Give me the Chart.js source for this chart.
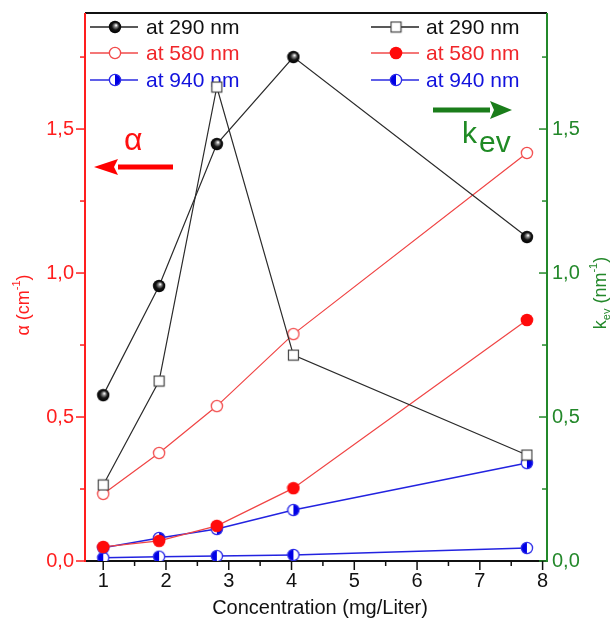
<!DOCTYPE html>
<html>
<head>
<meta charset="utf-8">
<script src="https://cdn.jsdelivr.net/npm/chart.js@4.4.1/dist/chart.umd.min.js"></script>
<style>
html,body{margin:0;padding:0;background:#fff;}
canvas{display:block;}
</style>
</head>
<body>
<canvas id="c" width="616" height="619"></canvas>
<script>
// ---- data ----
const concentration = [1, 1.89, 2.81, 4.03, 7.75];
const alpha290 = [0.576, 0.955, 1.448, 1.75, 1.125];
const alpha580 = [0.233, 0.375, 0.538, 0.788, 1.417];
const alpha940 = [0.046, 0.08, 0.111, 0.177, 0.34];
const kev290 = [0.264, 0.625, 1.646, 0.715, 0.368];
const kev580 = [0.049, 0.07, 0.122, 0.253, 0.837];
const kev940 = [0.011, 0.015, 0.017, 0.021, 0.045];
const xTickValues = [1, 2, 3, 4, 5, 6, 7, 8];
const legendLabels = ['at 290 nm', 'at 580 nm', 'at 940 nm'];

const FONT = "'Liberation Sans', Arial, sans-serif";
const RED = '#ff1e1e';
const GREEN = '#23882a';

function mk(size, fn){
  const c = document.createElement('canvas');
  c.width = size; c.height = size;
  const g = c.getContext('2d');
  fn(g, size/2);
  return c;
}
const sphere = mk(14, (g, m) => {
  const gr = g.createRadialGradient(m+1.2, m-1.8, 0.3, m, m, 6.5);
  gr.addColorStop(0, '#ffffff');
  gr.addColorStop(0.22, '#8a8a8a');
  gr.addColorStop(0.55, '#151515');
  gr.addColorStop(1, '#000');
  g.fillStyle = gr; g.beginPath(); g.arc(m, m, 6.2, 0, Math.PI*2); g.fill();
});
const openRed = mk(14, (g, m) => {
  g.fillStyle = '#fff'; g.strokeStyle = '#f24a4a'; g.lineWidth = 1.3;
  g.beginPath(); g.arc(m, m, 5.6, 0, Math.PI*2); g.fill(); g.stroke();
});
const fullRed = mk(14, (g, m) => {
  g.fillStyle = '#ff0a0a';
  g.beginPath(); g.arc(m, m, 6.3, 0, Math.PI*2); g.fill();
});
const square = mk(13, (g, m) => {
  g.fillStyle = '#fff'; g.strokeStyle = '#444'; g.lineWidth = 1.2;
  g.fillRect(1.5, 1.5, 10, 10); g.strokeRect(1.5, 1.5, 10, 10);
});
function half(rightFilled){
  return mk(14, (g, m) => {
    g.fillStyle = '#fff';
    g.beginPath(); g.arc(m, m, 5.6, 0, Math.PI*2); g.fill();
    g.fillStyle = '#0000e6';
    g.beginPath();
    if (rightFilled) g.arc(m, m, 5.6, -Math.PI/2, Math.PI/2);
    else g.arc(m, m, 5.6, Math.PI/2, Math.PI*1.5);
    g.closePath(); g.fill();
    g.strokeStyle = '#2a2ae8'; g.lineWidth = 1.3;
    g.beginPath(); g.arc(m, m, 5.6, 0, Math.PI*2); g.stroke();
  });
}
const halfR = half(true);
const halfL = half(false);

function pts(ys){ return concentration.map((x, i) => ({x: x, y: ys[i]})); }
function ds(label, ys, color, width, marker, axis){
  return {label, data: pts(ys), borderColor: color, borderWidth: width,
    pointStyle: marker, pointRadius: 6, yAxisID: axis, tension: 0, fill: false};
}

const fmt = v => v.toFixed(1).replace('.', ',');

function arrow(ctx, tail, tip, y, color, shaft, headLen, headHalf){
  const d = Math.sign(tip - tail);
  ctx.save();
  ctx.fillStyle = color;
  ctx.fillRect(Math.min(tail, tip - d*headLen), y - shaft/2, Math.abs(tip - d*headLen - tail), shaft);
  ctx.beginPath();
  ctx.moveTo(tip, y);
  ctx.lineTo(tip - d*headLen, y - headHalf);
  ctx.lineTo(tip - d*headLen + d*4, y);
  ctx.lineTo(tip - d*headLen, y + headHalf);
  ctx.closePath(); ctx.fill();
  ctx.restore();
}

function drawParts(ctx, parts, cx, cy){
  let total = 0;
  parts.forEach(p => { ctx.font = p[1] + 'px ' + FONT; p.w = ctx.measureText(p[0]).width; total += p.w; });
  let x = cx - total/2;
  parts.forEach(p => { ctx.font = p[1] + 'px ' + FONT; ctx.fillText(p[0], x, cy + p[2]); x += p.w; });
}

const deco = {
  id: 'deco',
  beforeDatasetsDraw(chart){
    const ctx = chart.ctx;
    const {left, right, top, bottom} = chart.chartArea;
    const xs = chart.scales.x, ys = chart.scales.y, y1 = chart.scales.y1;
    ctx.save();
    ctx.lineWidth = 2;
    ctx.strokeStyle = '#111';
    ctx.beginPath(); ctx.moveTo(left, top); ctx.lineTo(right, top); ctx.stroke();
    ctx.beginPath(); ctx.moveTo(left, bottom); ctx.lineTo(right, bottom); ctx.stroke();
    ctx.strokeStyle = RED;
    ctx.beginPath(); ctx.moveTo(left, top); ctx.lineTo(left, bottom + 1); ctx.stroke();
    ctx.strokeStyle = GREEN;
    ctx.beginPath(); ctx.moveTo(right, top); ctx.lineTo(right, bottom + 1); ctx.stroke();
    ctx.lineWidth = 1.5;
    for (let v = 0; v <= 1.9; v += 0.25){
      const major = Math.abs(v*2 - Math.round(v*2)) < 1e-6;
      const py = ys.getPixelForValue(v);
      ctx.strokeStyle = RED;
      ctx.beginPath(); ctx.moveTo(left, py); ctx.lineTo(left - (major ? 9 : 5), py); ctx.stroke();
      const py1 = y1.getPixelForValue(v);
      ctx.strokeStyle = GREEN;
      ctx.beginPath(); ctx.moveTo(right, py1); ctx.lineTo(right - (major ? 8 : 5), py1); ctx.stroke();
    }
    ctx.strokeStyle = '#111';
    for (let v = 1; v <= 8; v += 0.5){
      const major = Math.abs(v - Math.round(v)) < 1e-6;
      const px = xs.getPixelForValue(v);
      ctx.beginPath(); ctx.moveTo(px, bottom); ctx.lineTo(px, bottom + (major ? 9 : 5)); ctx.stroke();
    }
    const rows = [27, 53, 80];
    const leftMarkers = [sphere, openRed, halfR];
    const rightMarkers = [square, fullRed, halfL];
    const colors = ['#111', '#f0262a', '#1212dd'];
    const lineCols = ['#222', '#f04a4a', '#2a2ae0'];
    ctx.font = '21px ' + FONT;
    ctx.textBaseline = 'middle';
    ctx.textAlign = 'left';
    rows.forEach((ry, i) => {
      ctx.strokeStyle = lineCols[i]; ctx.lineWidth = 1.3;
      ctx.beginPath(); ctx.moveTo(90, ry); ctx.lineTo(138, ry); ctx.stroke();
      ctx.beginPath(); ctx.moveTo(371, ry); ctx.lineTo(419, ry); ctx.stroke();
      const m1 = leftMarkers[i], m2 = rightMarkers[i];
      ctx.drawImage(m1, 115 - m1.width/2, ry - m1.height/2);
      ctx.drawImage(m2, 396 - m2.width/2, ry - m2.height/2);
      ctx.fillStyle = colors[i];
      ctx.fillText(legendLabels[i], 146, ry + 1);
      ctx.fillText(legendLabels[i], 426, ry + 1);
    });
    arrow(ctx, 173, 94, 167, '#ff0000', 5, 24, 8);
    arrow(ctx, 433, 512, 110, '#1a7d1a', 5, 22, 9);
    ctx.fillStyle = '#ff1010';
    ctx.font = '32px ' + FONT;
    ctx.textBaseline = 'alphabetic';
    ctx.fillText('\u03b1', 124, 150);
    ctx.fillStyle = '#1f8a24';
    ctx.font = '30px ' + FONT;
    ctx.fillText('k', 462, 143);
    ctx.fillText('ev', 479, 152);
    ctx.textBaseline = 'middle';
    ctx.fillStyle = '#111';
    ctx.font = '20px ' + FONT;
    ctx.textAlign = 'center';
    ctx.fillText('Concentration (mg/Liter)', 320, 608);
    ctx.textAlign = 'left';
    ctx.save();
    ctx.translate(24, 305);
    ctx.rotate(-Math.PI/2);
    ctx.fillStyle = RED;
    drawParts(ctx, [['\u03b1 (cm', 18, 0], ['-1', 11, -7], [')', 18, 0]], 0, 0);
    ctx.restore();
    ctx.save();
    ctx.translate(601, 293);
    ctx.rotate(-Math.PI/2);
    ctx.fillStyle = GREEN;
    drawParts(ctx, [['k', 18, 0], ['ev', 11, 6], [' (nm', 18, 0], ['-1', 11, -7], [')', 18, 0]], 0, 0);
    ctx.restore();
    ctx.restore();
  }
};

function noPad(s){ s.paddingTop = 0; s.paddingBottom = 0; s.paddingLeft = 0; s.paddingRight = 0; }

new Chart(document.getElementById('c'), {
  type: 'line',
  data: {
    datasets: [
      ds('α 290 nm', alpha290, '#2a2a2a', 1.2, sphere, 'y'),
      ds('k 290 nm', kev290, '#2a2a2a', 1.2, square, 'y1'),
      ds('α 580 nm', alpha580, '#f04444', 1.2, openRed, 'y'),
      ds('k 580 nm', kev580, '#f04444', 1.2, fullRed, 'y1'),
      ds('α 940 nm', alpha940, '#2323e0', 1.5, halfR, 'y'),
      ds('k 940 nm', kev940, '#2323e0', 1.5, halfL, 'y1')
    ]
  },
  options: {
    responsive: false,
    animation: false,
    events: [],
    layout: {padding: {top: 13, left: 0, right: 0, bottom: 0}},
    plugins: {legend: {display: false}, tooltip: {enabled: false}},
    scales: {
      x: {
        type: 'linear', min: 0.71, max: 8.07,
        grid: {display: false, drawTicks: false}, border: {display: false},
        afterBuildTicks: s => { s.ticks = xTickValues.map(v => ({value: v})); },
        ticks: {padding: 8, color: '#111', font: {family: FONT, size: 20}, callback: v => String(v)},
        afterFit: s => { s.height = 58; noPad(s); }
      },
      y: {
        position: 'left', min: 0, max: 1.903,
        grid: {display: false, drawTicks: false}, border: {display: false},
        ticks: {stepSize: 0.5, includeBounds: false, padding: 11, color: RED, font: {family: FONT, size: 20}, callback: fmt},
        afterFit: s => { s.width = 85; noPad(s); }
      },
      y1: {
        position: 'right', min: 0, max: 1.903,
        grid: {display: false, drawTicks: false}, border: {display: false},
        ticks: {stepSize: 0.5, includeBounds: false, padding: 5, color: GREEN, font: {family: FONT, size: 20}, callback: fmt},
        afterFit: s => { s.width = 69; noPad(s); }
      }
    }
  },
  plugins: [deco]
});
</script>
</body>
</html>
